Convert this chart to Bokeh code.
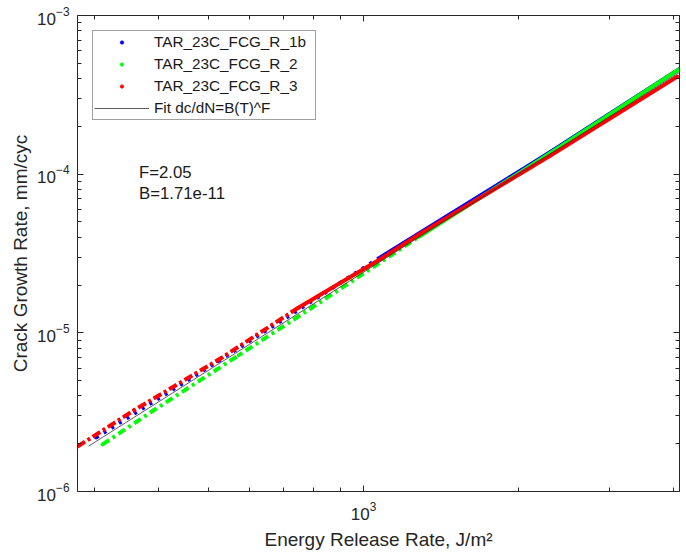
from bokeh.plotting import figure
from bokeh.models import LogAxis, FixedTicker, LogTickFormatter, Label
from bokeh.embed import file_html
from bokeh.resources import INLINE

# ---- data ----
blue_T = [302, 521, 1079, 2307, 4110]
blue_rate = [2.19e-6, 6.62e-6, 3.00e-5, 1.38e-4, 4.60e-4]

green_T = [311, 391, 572, 796, 1279, 2307, 4090]
green_rate = [1.98e-6, 3.25e-6, 7.22e-6, 1.45e-5, 4.02e-5, 1.36e-4, 4.56e-4]

red_T = [278, 358, 528, 744, 1079, 1279, 2307, 4071]
red_rate = [1.92e-6, 3.25e-6, 6.91e-6, 1.43e-5, 2.92e-5, 4.15e-5, 1.31e-4, 4.12e-4]

fit_T = [292, 4110]
fit_rate = [1.93e-6, 4.38e-4]

series_names = ["TAR_23C_FCG_R_1b", "TAR_23C_FCG_R_2", "TAR_23C_FCG_R_3"]
fit_name = "Fit dc/dN=B(T)^F"
annot = ["F=2.05", "B=1.71e-11"]

x_major = [1000]
x_minor = [300, 400, 500, 600, 700, 800, 900, 2000, 3000, 4000]
y_major = [1e-6, 1e-5, 1e-4, 1e-3]
y_minor = [m * d for d in (1e-6, 1e-5, 1e-4) for m in range(2, 10)]

FONT = "Liberation Sans"
AX = "#262626"

p = figure(width=685, height=553, x_axis_type="log", y_axis_type="log",
           x_range=(278, 4110), y_range=(1e-6, 1e-3),
           output_backend="svg", toolbar_location=None,
           min_border_left=77, min_border_right=6, min_border_top=15,
           min_border_bottom=62)
p.xgrid.visible = False
p.ygrid.visible = False
p.outline_line_color = None

xt = FixedTicker(ticks=x_major, minor_ticks=x_minor)
yt = FixedTicker(ticks=y_major, minor_ticks=y_minor)

def style_axis(ax, ticker, show_labels):
    ax.ticker = ticker
    ax.axis_line_color = AX
    ax.axis_line_width = 1
    ax.major_tick_line_color = AX
    ax.minor_tick_line_color = AX
    ax.major_tick_in = 6
    ax.major_tick_out = 0
    ax.minor_tick_in = 4
    ax.minor_tick_out = 0
    if show_labels:
        ax.formatter = LogTickFormatter()
        ax.major_label_text_font = FONT
        ax.major_label_text_font_size = "17px"
        ax.major_label_text_color = AX
    else:
        ax.major_label_text_font_size = "1px"
        ax.major_label_text_alpha = 0
        ax.major_label_standoff = 0

style_axis(p.xaxis[0], xt, True)
style_axis(p.yaxis[0], yt, True)
p.xaxis[0].major_label_standoff = 10
p.yaxis[0].major_label_standoff = 8

p.xaxis[0].axis_label = "Energy Release Rate, J/m\u00b2"
p.yaxis[0].axis_label = "Crack Growth Rate, mm/cyc"
for ax in (p.xaxis[0], p.yaxis[0]):
    ax.axis_label_text_font = FONT
    ax.axis_label_text_font_size = "19px"
    ax.axis_label_text_font_style = "normal"
    ax.axis_label_text_color = AX
p.xaxis[0].axis_label_standoff = 6
p.yaxis[0].axis_label_standoff = 3

top = LogAxis()
style_axis(top, xt, False)
p.add_layout(top, "above")
right = LogAxis()
style_axis(right, yt, False)
p.add_layout(right, "right")

# ---- series ----
def draw(T, rate, split, color, name, dash):
    p.scatter(T, rate, size=3, color=color, legend_label=name)
    p.line(T[:split + 1], rate[:split + 1], color=color, line_width=4, line_dash=dash)
    p.line(T[split:], rate[split:], color=color, line_width=4)

draw(blue_T, blue_rate, 2, "#0000ff", series_names[0], "3 6")
draw(green_T, green_rate, 4, "#00ff00", series_names[1], "8 4 3 4")
draw(red_T, red_rate, 3, "#ff0000", series_names[2], "9 3 3 3")

p.line(fit_T, fit_rate, color="#333333", line_width=0.8, legend_label=fit_name)

for txt, yv in zip(annot, [1.02e-4, 7.5e-5]):
    p.add_layout(Label(x=366, y=yv, text=txt, text_baseline="middle",
                       text_font=FONT, text_font_size="16.8px", text_color="#1a1a1a"))

lg = p.legend[0]
lg.location = "top_left"
lg.margin = 15
lg.padding = 1
lg.spacing = 2
lg.label_height = 20
lg.glyph_height = 8
lg.glyph_width = 55
lg.label_standoff = 5
lg.label_width = 160
lg.label_text_font = FONT
lg.label_text_font_size = "15.3px"
lg.label_text_color = "#1a1a1a"
lg.border_line_color = "#444444"
lg.border_line_width = 1
lg.background_fill_color = "white"
lg.background_fill_alpha = 1

open("out.html", "w").write(file_html(p, INLINE))
